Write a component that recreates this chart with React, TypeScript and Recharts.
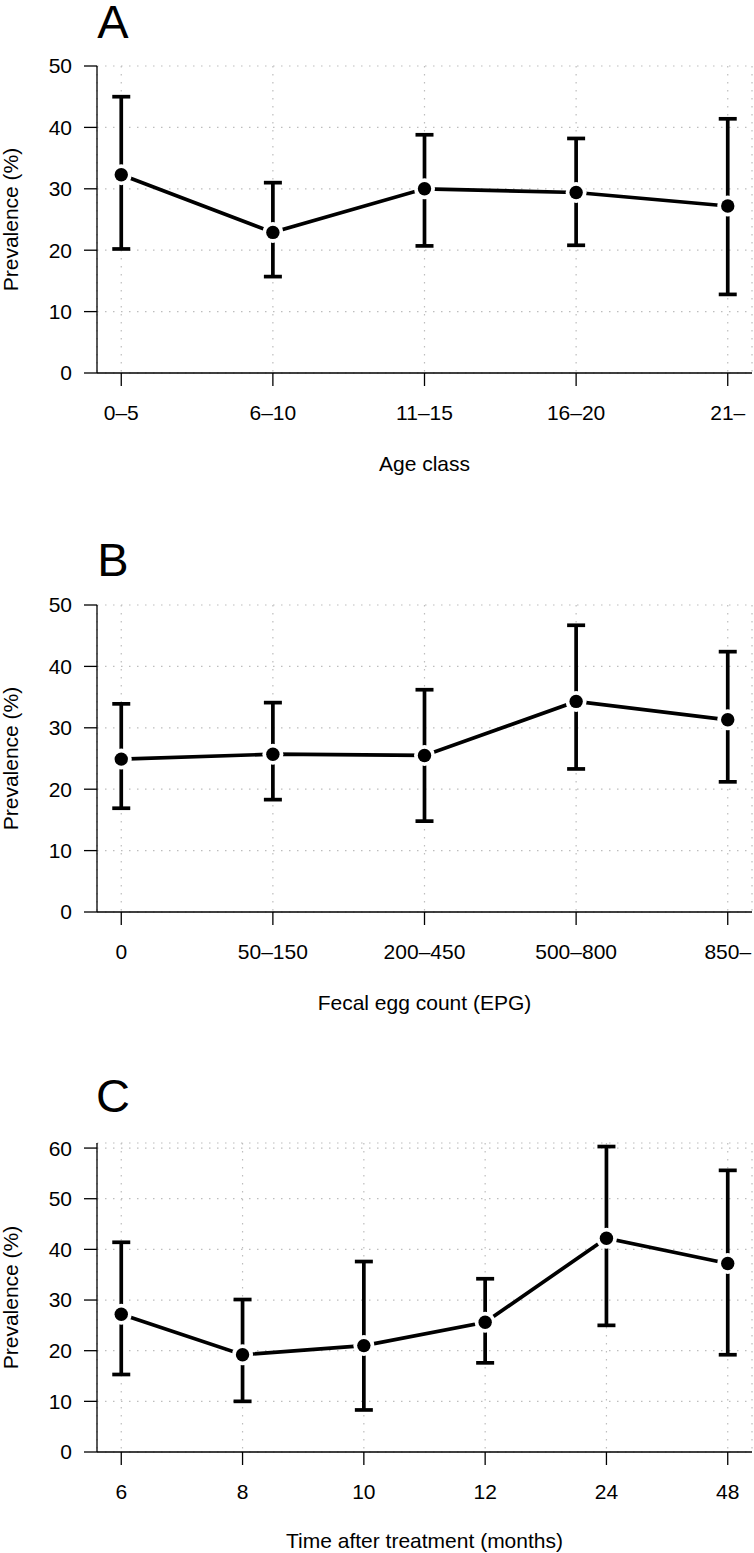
import React from 'react';
import { LineChart, Line, XAxis, YAxis, CartesianGrid, ErrorBar } from 'recharts';

const FONT = '"Liberation Sans", Arial, Helvetica, sans-serif';

// panel A: age class
const ageClasses = ['0–5', '6–10', '11–15', '16–20', '21–'];
const agePrev = [32.3, 22.9, 30.0, 29.4, 27.2];
const ageLower = [20.2, 15.7, 20.7, 20.8, 12.8];
const ageUpper = [45.0, 31.0, 38.8, 38.2, 41.4];

// panel B: fecal egg count
const eggClasses = ['0', '50–150', '200–450', '500–800', '850–'];
const eggPrev = [24.9, 25.7, 25.5, 34.3, 31.3];
const eggLower = [16.9, 18.3, 14.8, 23.3, 21.2];
const eggUpper = [33.9, 34.1, 36.2, 46.7, 42.4];

// panel C: time after treatment
const timeClasses = ['6', '8', '10', '12', '24', '48'];
const timePrev = [27.2, 19.2, 21.0, 25.6, 42.2, 37.2];
const timeLower = [15.3, 10.0, 8.3, 17.6, 25.0, 19.2];
const timeUpper = [41.4, 30.1, 37.6, 34.2, 60.3, 55.6];

const ticks50 = [0, 10, 20, 30, 40, 50];
const ticks60 = [0, 10, 20, 30, 40, 50, 60];

type PanelProps = {
  cats: string[];
  prev: number[];
  lower: number[];
  upper: number[];
  yMax: number;
  yTicks: number[];
  top: number;
  height: number;
};

function Panel({ cats, prev, lower, upper, yMax, yTicks, top, height }: PanelProps) {
  const n = cats.length;
  const pad = 0.04 * (n - 1);
  const rows = prev.map((v, i) => ({ x: i + 1, y: v, err: [v - lower[i], upper[i] - v] }));
  const axisStyle = { stroke: '#000', strokeWidth: 1.3 };
  const tickStyle = { fill: '#000', fontSize: 21, fontFamily: FONT };
  return (
    <div style={{ position: 'absolute', left: 0, top }}>
      <LineChart width={754} height={height} data={rows} margin={{ top: 66, right: 2, bottom: 0, left: 0 }}>
        <CartesianGrid stroke="#bdbdbd" strokeWidth={1.2} strokeDasharray="1.5 6.5" />
        <XAxis
          type="number"
          dataKey="x"
          domain={[1 - pad, n + pad]}
          ticks={cats.map((_, i) => i + 1)}
          tickFormatter={(v: number) => cats[v - 1]}
          interval={0}
          allowDataOverflow
          height={100}
          tickSize={13}
          tickMargin={19}
          axisLine={axisStyle}
          tickLine={axisStyle}
          tick={tickStyle}
        />
        <YAxis
          type="number"
          domain={[0, yMax]}
          ticks={yTicks}
          interval={0}
          allowDataOverflow
          width={97}
          tickSize={13}
          tickMargin={12}
          axisLine={axisStyle}
          tickLine={axisStyle}
          tick={tickStyle}
        />
        {/* connecting line, cut back around each point like R's type = "b" */}
        <Line
          dataKey="y"
          stroke="#000"
          strokeWidth={3.7}
          isAnimationActive={false}
          activeDot={false}
          dot={(p: any) => <circle key={`h${p.index}`} cx={p.cx} cy={p.cy} r={10.5} fill="#fff" />}
        />
        <Line
          dataKey="y"
          stroke="none"
          isAnimationActive={false}
          activeDot={false}
          dot={{ r: 6.7, fill: '#000', stroke: 'none' }}
        >
          <ErrorBar dataKey="err" direction="y" width={9} strokeWidth={3.7} stroke="#000" isAnimationActive={false} />
        </Line>
      </LineChart>
    </div>
  );
}

export default function App() {
  const letter = { fontSize: 47, fontFamily: FONT, fill: '#000' };
  const title = { fontSize: 21, fontFamily: FONT, fill: '#000' };
  return (
    <div style={{ position: 'absolute', left: 0, top: 0, width: 754, height: 1553, background: '#fff', overflow: 'hidden' }}>
      <svg width={754} height={1553} style={{ position: 'absolute', left: 0, top: 0 }}>
        <text x={113} y={38} textAnchor="middle" {...letter}>A</text>
        <text x={113} y={576} textAnchor="middle" {...letter}>B</text>
        <text x={113} y={1112} textAnchor="middle" {...letter}>C</text>
        <text x={18} y={219.5} textAnchor="middle" transform="rotate(-90, 18, 219.5)" {...title}>Prevalence (%)</text>
        <text x={18} y={758.5} textAnchor="middle" transform="rotate(-90, 18, 758.5)" {...title}>Prevalence (%)</text>
        <text x={18} y={1297.5} textAnchor="middle" transform="rotate(-90, 18, 1297.5)" {...title}>Prevalence (%)</text>
        <text x={424.5} y={471} textAnchor="middle" {...title}>Age class</text>
        <text x={424.5} y={1010} textAnchor="middle" {...title}>Fecal egg count (EPG)</text>
        <text x={424.5} y={1548} textAnchor="middle" {...title}>Time after treatment (months)</text>
      </svg>
      <Panel cats={ageClasses} prev={agePrev} lower={ageLower} upper={ageUpper} yMax={50} yTicks={ticks50} top={0} height={473} />
      <Panel cats={eggClasses} prev={eggPrev} lower={eggLower} upper={eggUpper} yMax={50} yTicks={ticks50} top={539} height={473} />
      <Panel cats={timeClasses} prev={timePrev} lower={timeLower} upper={timeUpper} yMax={61} yTicks={ticks60} top={1077} height={475} />
    </div>
  );
}
